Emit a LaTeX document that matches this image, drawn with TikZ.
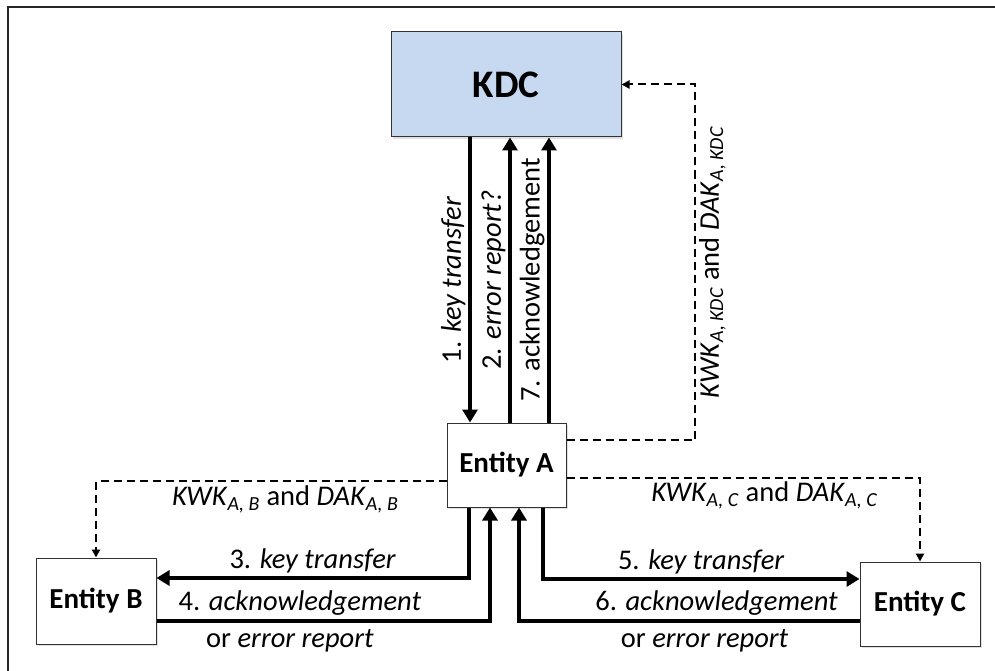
\documentclass[tikz,border=0pt]{standalone}
\usepackage{fontspec}
\setmainfont{Carlito}
\usetikzlibrary{arrows.meta,shadows}
\definecolor{kdcblue}{HTML}{C6D9F1}
\tikzset{
  box/.style={draw=black!80, line width=1pt, fill=white, inner sep=0pt,
    font=\fontsize{29}{33}\selectfont\bfseries,
    drop shadow={shadow xshift=2pt, shadow yshift=-2pt, opacity=0.25}},
  flow/.style={line width=3.2pt, -{Triangle[length=13pt, width=15pt]}},
  keyflow/.style={line width=2pt, dash pattern=on 8pt off 5pt,
    -{Triangle[length=8pt, width=8pt]}},
  lbl/.style={font=\fontsize{28.5}{32}\selectfont, inner sep=3pt}
}
\newcommand{\idx}[1]{\textsubscript{\textit{#1}}}
\begin{document}
\begin{tikzpicture}[x=1pt, y=-1pt]
    \useasboundingbox (0,0) rectangle (995,671);
    % Marco
    \draw[line width=2pt, black!85] (8,7) rectangle (1010,690);

    % Entidades
    \node[box, fill=kdcblue, minimum width=230pt, minimum height=105pt,
      font=\fontsize{39}{43}\selectfont\bfseries] (kdc) at (506,84.5) {KDC};
    \node[box, minimum width=119pt, minimum height=84pt] (entA) at (506.5,465) {Entity A};
    \node[box, minimum width=120pt, minimum height=86pt] (entB) at (96,601) {Entity B};
    \node[box, minimum width=120pt, minimum height=84pt] (entC) at (920,604) {Entity C};

    % Puntos de paso
    \coordinate (k1) at (470,0);
    \coordinate (k2) at (510,0);
    \coordinate (k7) at (549,0);
    \coordinate (kc) at (695,440);
    \coordinate (c3) at (469,578);
    \coordinate (c4) at (490,621);
    \coordinate (c5) at (543,579);
    \coordinate (c6) at (519,621);

    % KDC <-> Entity A
    \draw[flow] (kdc.south -| k1) -- (entA.north -| k1)
      node[midway, lbl, rotate=90, anchor=south] {1. \textit{key transfer}};
    \draw[flow] (entA.north -| k2) -- (kdc.south -| k2)
      node[midway, lbl, rotate=90, anchor=south] {2. \textit{error report?}};
    \draw[flow] (entA.north -| k7) -- (kdc.south -| k7)
      node[midway, lbl, rotate=90, anchor=south] {7. acknowledgement};
    \draw[keyflow] (entA.east |- kc) -- (kc)
      -- node[midway, lbl, rotate=90, anchor=north]
        {\textit{KWK}\idx{A, KDC} and \textit{DAK}\idx{A, KDC}} (kc |- kdc.east)
      -- (kdc.east);

    % Entity A -> Entity B
    \draw[keyflow] ([yshift=-16pt]entA.west) -| (entB.north)
      node[pos=0.23, lbl, below=1pt] {\textit{KWK}\idx{A, B} and \textit{DAK}\idx{A, B}};
    \draw[flow] (entA.south -| c3) -- (c3) -- (entB.east |- c3)
      node[midway, lbl, above] {3. \textit{key transfer}};
    \draw[flow] (entB.east |- c4)
      -- node[pos=0.43, lbl, above=1pt] {4. \textit{acknowledgement}}
         node[pos=0.40, lbl, below=4pt] {or \textit{error report}} (c4)
      -- (entA.south -| c4);

    % Entity A -> Entity C
    \draw[keyflow] ([yshift=-13pt]entA.east) -| (entC.north)
      node[pos=0.28, lbl, below] {\textit{KWK}\idx{A, C} and \textit{DAK}\idx{A, C}};
    \draw[flow] (entA.south -| c5) -- (c5) -- (entC.west |- c5)
      node[midway, lbl, above] {5. \textit{key transfer}};
    \draw[flow] (entC.west |- c6)
      -- node[pos=0.42, lbl, above=1pt] {6. \textit{acknowledgement}}
         node[pos=0.455, lbl, below=4pt] {or \textit{error report}} (c6)
      -- (entA.south -| c6);
\end{tikzpicture}
\end{document}
